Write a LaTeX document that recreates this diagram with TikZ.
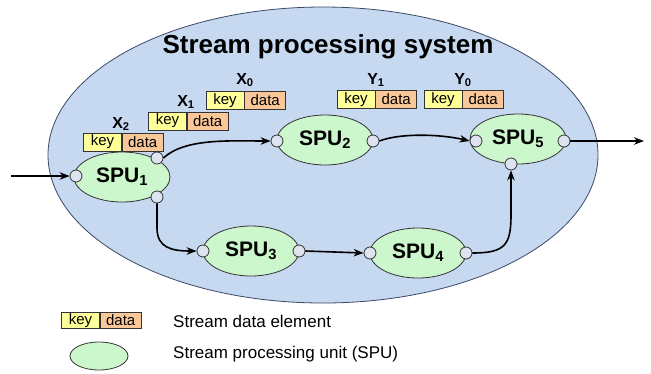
\documentclass[tikz,border=0pt]{standalone}
\usepackage{fontspec}
\setmainfont{Liberation Sans}
\usetikzlibrary{arrows.meta,shapes.geometric}
\definecolor{sysblue}{HTML}{C6D9F0}
\definecolor{sysedge}{HTML}{3B4A66}
\definecolor{spugreen}{HTML}{CCF7CC}
\definecolor{portfill}{HTML}{DDE3EF}
\definecolor{keyyellow}{HTML}{FFFF99}
\definecolor{dataorange}{HTML}{FAC898}
\tikzset{
  spu/.style={ellipse, draw=black!80, line width=0.8pt, fill=spugreen, minimum width=96pt, minimum height=50pt, inner sep=0pt, font=\bfseries\fontsize{21}{24}\selectfont},
  port/.style={circle, draw=black!80, line width=0.8pt, fill=portfill, minimum size=12pt, inner sep=0pt},
  keybox/.style={draw=black!80, line width=0.7pt, fill=keyyellow, minimum width=38pt, minimum height=18pt, inner sep=0pt, font=\fontsize{15}{17}\selectfont},
  databox/.style={draw=black!80, line width=0.7pt, fill=dataorange, minimum width=41pt, minimum height=18pt, inner sep=0pt, font=\fontsize{15}{17}\selectfont},
  elabel/.style={font=\bfseries\fontsize{16}{18}\selectfont, inner sep=0pt},
  flow/.style={line width=1.6pt, -{Stealth[length=10pt,width=7.5pt]}},
  legtext/.style={anchor=west, inner sep=0pt, font=\fontsize{17}{20}\selectfont}
}
\begin{document}
\begin{tikzpicture}[x=1pt,y=-1pt]
\useasboundingbox (0,0) rectangle (651,373);
% system ellipse
\node[ellipse, draw=sysedge, line width=0.8pt, fill=sysblue, minimum width=550pt, minimum height=296pt, inner sep=0pt] (sys) at (323,155) {};
\node[font=\bfseries\fontsize{26}{30}\selectfont, inner sep=0pt] (title) at (328,47) {Stream processing system};

% SPUs
\node[spu] (s1) at (122,177) {SPU\textsubscript{1}};
\node[spu] (s2) at (325,140) {SPU\textsubscript{2}};
\node[spu] (s3) at (251,251) {SPU\textsubscript{3}};
\node[spu] (s4) at (418,253) {SPU\textsubscript{4}};
\node[spu] (s5) at (518,139) {SPU\textsubscript{5}};

% ports
\node[port] (p1l) at (76,176) {};
\node[port] (p1t) at (157,158) {};
\node[port] (p1b) at (157,197) {};
\node[port] (p2l) at (277,141) {};
\node[port] (p2r) at (373,141) {};
\node[port] (p3l) at (203,251) {};
\node[port] (p3r) at (299,251) {};
\node[port] (p4l) at (370,253) {};
\node[port] (p4r) at (466,253) {};
\node[port] (p5l) at (476,141) {};
\node[port] (p5r) at (564,141) {};
\node[port] (p5b) at (511,164) {};

% connectors
\coordinate (in) at (11,176);
\coordinate (out) at (644,141);
\draw[flow] (in) -- (p1l.west);
\draw[flow] (p1t.east) .. controls (185,138) and (230,141) .. (p2l.west);
\draw[flow] (p1b.south) -- (157,228) .. controls (157,248) and (172,251) .. (p3l.west);
\draw[flow] (p3r.east) -- (p4l.west);
\draw[flow] (p4r.east) .. controls (505,253) and (511,245) .. (511,215) -- (p5b.south);
\draw[flow] (p2r.east) .. controls (400,133) and (440,134) .. (p5l.west);
\draw[flow] (p5r.east) -- (out);

% data elements
\node[keybox] (k2) at (102.5,142) {key};
\node[databox, anchor=west] (d2) at (k2.east) {data};
\node[elabel] (x2) at (121,124) {X\textsubscript{2}};

\node[keybox] (k1) at (167.5,121) {key};
\node[databox, anchor=west] (d1) at (k1.east) {data};
\node[elabel] (x1) at (186,102) {X\textsubscript{1}};

\node[keybox] (k0) at (225,100.5) {key};
\node[databox, anchor=west] (d0) at (k0.east) {data};
\node[elabel] (x0) at (245,80) {X\textsubscript{0}};

\node[keybox] (ky1) at (356,99.5) {key};
\node[databox, anchor=west] (dy1) at (ky1.east) {data};
\node[elabel] (y1) at (376,80) {Y\textsubscript{1}};

\node[keybox] (ky0) at (443,99.5) {key};
\node[databox, anchor=west] (dy0) at (ky0.east) {data};
\node[elabel] (y0) at (463,80) {Y\textsubscript{0}};

% legend
\node[keybox, minimum height=16pt] (lk) at (80.5,320.5) {key};
\node[databox, minimum height=16pt, anchor=west] (ld) at (lk.east) {data};
\node[legtext] (lt1) at (173,321) {Stream data element};
\node[ellipse, draw=black!80, line width=0.8pt, fill=spugreen, minimum width=58pt, minimum height=28pt, inner sep=0pt] (le) at (99,356) {};
\node[legtext] (lt2) at (173,354) {Stream processing unit (SPU)};
\end{tikzpicture}
\end{document}
